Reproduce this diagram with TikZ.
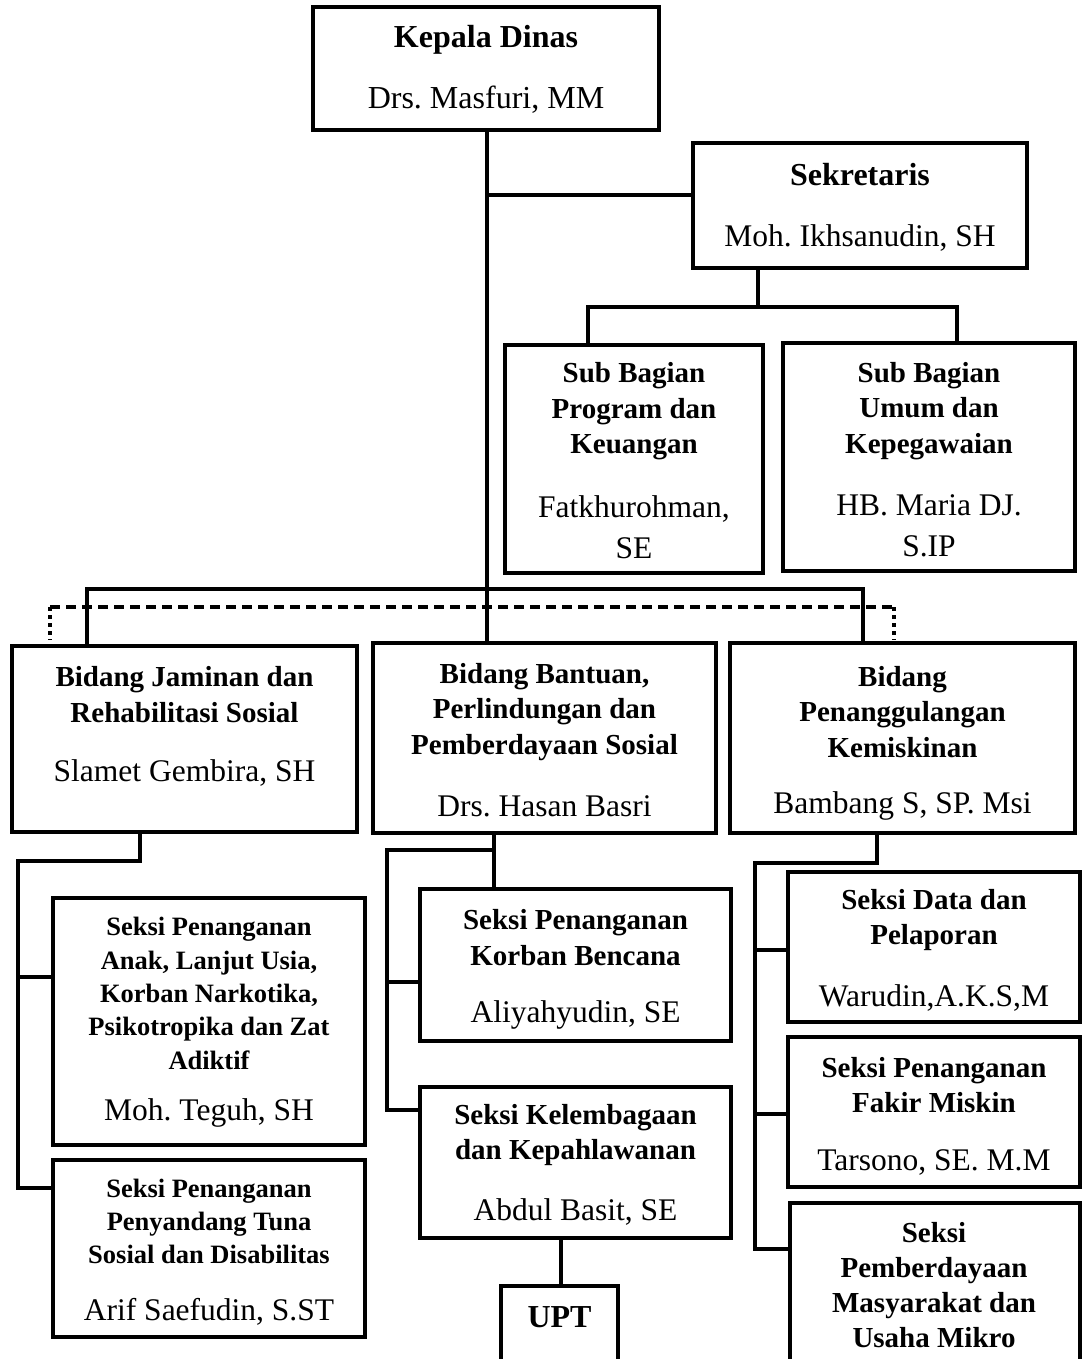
\documentclass[tikz,border=0pt]{standalone}
\usepackage{fontspec}
\setmainfont{Liberation Serif}
\frenchspacing
\begin{document}
\begin{tikzpicture}[x=1pt,y=-1pt,
  box/.style={draw, line width=3.5pt, inner sep=0pt},
  conn/.style={line width=3.5pt},
  hdL/.style={font=\bfseries\fontsize{32}{38}\selectfont, align=center, inner sep=0pt},
  hd/.style={font=\bfseries\fontsize{29}{35.5}\selectfont, align=center, inner sep=0pt},
  hdS/.style={font=\bfseries\fontsize{26.5}{33.3}\selectfont, align=center, inner sep=0pt},
  nm/.style={font=\fontsize{31.5}{41}\selectfont, align=center, inner sep=0pt}]
\useasboundingbox (0,0) rectangle (1085,1359);
\fill[white] (0,0) rectangle (1085,1359);

% ---- boxes ----
\node[box, minimum width=346, minimum height=123] (kd) at (486,68.5) {};
\node[box, minimum width=334, minimum height=125] (sek) at (860,205.5) {};
\node[box, minimum width=258, minimum height=228] (sbp) at (634,459) {};
\node[box, minimum width=292, minimum height=228] (sbu) at (929,457) {};
\node[box, minimum width=345, minimum height=186] (bj) at (184.5,739) {};
\node[box, minimum width=343, minimum height=190] (bb) at (544.5,738) {};
\node[box, minimum width=345, minimum height=190] (bp) at (902.5,738) {};
\node[box, minimum width=312, minimum height=247] (sa) at (209,1021.5) {};
\node[box, minimum width=312, minimum height=177] (st) at (209,1248.5) {};
\node[box, minimum width=311, minimum height=152] (sk) at (575.5,965) {};
\node[box, minimum width=311, minimum height=151] (sl) at (575.5,1162.5) {};
\node[box, minimum width=117, minimum height=84] (upt) at (559.5,1328) {};
\node[box, minimum width=292, minimum height=150] (sd) at (934,947) {};
\node[box, minimum width=292, minimum height=150] (sf) at (934,1112) {};
\node[box, minimum width=290, minimum height=170] (sp) at (935,1288) {};

% ---- texts ----
\node[hdL] (kdT) at (486,40) {Kepala Dinas};
\node[nm, font=\fontsize{32}{38}\selectfont] (kdN) at (486,100) {Drs. Masfuri, MM};
\node[hdL] (sekT) at (860,175) {Sekretaris};
\node[nm] (sekN) at (860,238) {Moh. Ikhsanudin, SH};
\node[hd] (sbpT) at (634,411.5) {Sub Bagian\\Program dan\\Keuangan};
\node[nm] (sbpN) at (634,527) {Fatkhurohman,\\SE};
\node[hd] (sbuT) at (929,411) {Sub Bagian\\Umum dan\\Kepegawaian};
\node[nm] (sbuN) at (929,526) {HB. Maria DJ.\\S.IP};
\node[hd] (bjT) at (184.5,694.5) {Bidang Jaminan dan\\Rehabilitasi Sosial};
\node[nm] (bjN) at (184.5,773) {Slamet Gembira, SH};
\node[hd] (bbT) at (544.5,712) {Bidang Bantuan,\\Perlindungan dan\\Pemberdayaan Sosial};
\node[nm] (bbN) at (544.5,806) {Drs. Hasan Basri};
\node[hd] (bpT) at (902.5,712) {Bidang\\Penanggulangan\\Kemiskinan};
\node[nm] (bpN) at (902.5,806) {Bambang S, SP. Msi};
\node[hdS] (saT) at (209,993.5) {Seksi Penanganan\\Anak, Lanjut Usia,\\Korban Narkotika,\\Psikotropika dan Zat\\Adiktif};
\node[nm] (saN) at (209,1113) {Moh. Teguh, SH};
\node[hdS] (stT) at (209,1221.5) {Seksi Penanganan\\Penyandang Tuna\\Sosial dan Disabilitas};
\node[nm] (stN) at (209,1312) {Arif Saefudin, S.ST};
\node[hd] (skT) at (575.5,937.5) {Seksi Penanganan\\Korban Bencana};
\node[nm] (skN) at (575.5,1015) {Aliyahyudin, SE};
\node[hd] (slT) at (575.5,1135) {Seksi Kelembagaan\\dan Kepahlawanan};
\node[nm] (slN) at (575.5,1212) {Abdul Basit, SE};
\node[hdL] (uptT) at (559.5,1317) {UPT};
\node[hd] (sdT) at (934,920) {Seksi Data dan\\Pelaporan};
\node[nm] (sdN) at (934,998) {Warudin,A.K.S,M};
\node[hd] (sfT) at (934,1085) {Seksi Penanganan\\Fakir Miskin};
\node[nm] (sfN) at (934,1162) {Tarsono, SE. M.M};
\node[hd, font=\bfseries\fontsize{29}{35}\selectfont] (spT) at (934,1285) {Seksi\\Pemberdayaan\\Masyarakat dan\\Usaha Mikro};

% ---- junction coordinates ----
\coordinate (dl) at (50,640);
\coordinate (dr) at (894,640);

% ---- connectors ----
\draw[conn] (487,0 |- kd.south) -- (487,0 |- bb.north);
\draw[conn] (487,195) -- (sek.west |- 0,195);
\draw[conn] (758,0 |- sek.south) -- (758,307);
\draw[conn] (588,0 |- sbp.north) -- (588,307) -- (957,307) -- (957,0 |- sbu.north);
\draw[conn] (87,0 |- bj.north) -- (87,589) -- (863,589) -- (863,0 |- bp.north);
\draw[line width=3.5pt, dash pattern=on 10pt off 6pt] (50,607) -- (894,607);
\draw[line width=3.5pt, dash pattern=on 4pt off 4pt] (50,607) -- (dl);
\draw[line width=3.5pt, dash pattern=on 4pt off 4pt] (894,607) -- (dr);
% left
\draw[conn] (140,0 |- bj.south) -- (140,861) -- (18,861) -- (18,1188) -- (st.west |- 0,1188);
\draw[conn] (18,977) -- (sa.west |- 0,977);
% middle
\draw[conn] (494,0 |- bb.south) -- (494,0 |- sk.north);
\draw[conn] (494,850) -- (387,850) -- (387,1110) -- (sl.west |- 0,1110);
\draw[conn] (387,982) -- (sk.west |- 0,982);
\draw[conn] (561,0 |- sl.south) -- (561,0 |- upt.north);
% right
\draw[conn] (877,0 |- bp.south) -- (877,863) -- (755,863) -- (755,1249) -- (sp.west |- 0,1249);
\draw[conn] (755,950) -- (sd.west |- 0,950);
\draw[conn] (755,1114) -- (sf.west |- 0,1114);
\end{tikzpicture}
\end{document}
